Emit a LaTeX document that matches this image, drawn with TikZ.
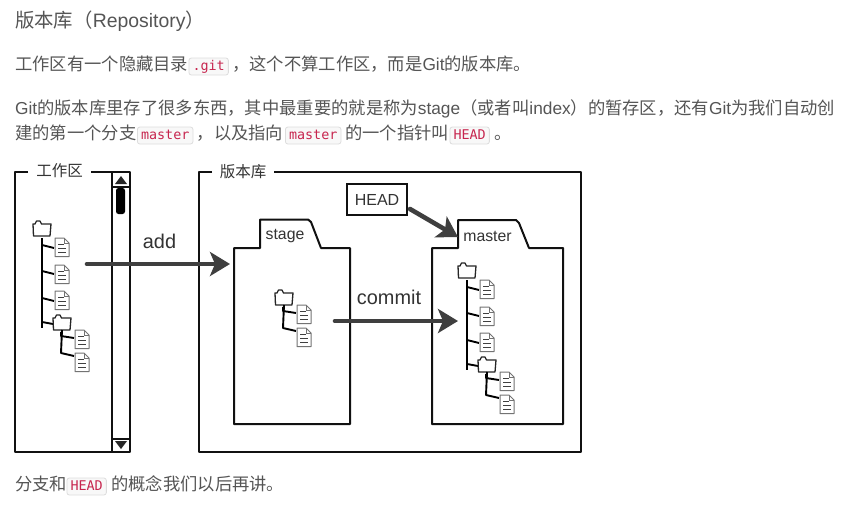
\documentclass[tikz,border=0pt]{standalone}
\usepackage{fontspec}
\setmainfont{Liberation Sans}
\setmonofont{DejaVu Sans Mono}
\newfontfamily\cjk{Noto Sans CJK SC}
\usetikzlibrary{arrows.meta}
\newcommand{\cn}[1]{{\cjk #1}}
\definecolor{bodytext}{HTML}{555555}
\definecolor{codetext}{HTML}{C7254E}
\definecolor{codeline}{HTML}{DDDDDD}
\definecolor{codefill}{HTML}{F8F8F8}
\definecolor{framecol}{HTML}{111111}
\definecolor{arrowcol}{HTML}{3F3F3F}
\definecolor{labelcol}{HTML}{333333}
\tikzset{
  para/.style={anchor=base west,inner sep=0pt,text=bodytext,font=\fontsize{17.3}{20}\selectfont},
  title/.style={para,font=\fontsize{19.4}{24}\selectfont},
  codebox/.style={anchor=base west,draw=codeline,fill=codefill,rounded corners=2.5pt,line width=.8pt,
     text=codetext,font=\ttfamily\fontsize{13.4}{16}\selectfont,inner xsep=3.6pt,inner ysep=0pt,
     text height=12pt,text depth=5pt},
  frameline/.style={draw=framecol,line width=2.3pt,line join=round},
  folderline/.style={draw=framecol,line width=2pt,line join=round},
  treeline/.style={draw=black,line width=1.9pt,line join=round},
  flowarrow/.style={draw=arrowcol,line width=4.6pt,line cap=round,
     -{Stealth[length=20pt,width=24pt,inset=5pt]}},
  framelabel/.style={inner sep=0pt,text=labelcol,font=\cjk\fontsize{15.5}{18}\selectfont},
  foldername/.style={inner sep=0pt,text=labelcol,font=\fontsize{15.8}{18}\selectfont},
  flowlabel/.style={inner sep=0pt,text=labelcol,font=\fontsize{19.9}{22}\selectfont},
  headbox/.style={draw=framecol,line width=2pt,fill=white,inner sep=0pt,minimum width=60pt,minimum height=31pt,
     text=labelcol,font=\fontsize{16}{18}\selectfont},
  foldericon/.pic={
    \draw[draw=black!85,line width=1.3pt,line join=round] (0,3) -- (2,3) -- (3.5,0) -- (7,0) -- (8.5,3) -- (18,3) -- (17,15) -- (0.5,15) -- cycle;
  },
  docicon/.pic={
    \draw[draw=black!55,line width=1pt,line join=round,fill=white] (0,0) -- (9,0) -- (14,5) -- (14,18.5) -- (0,18.5) -- cycle;
    \draw[draw=black!55,line width=.7pt] (9,0) -- (9,5) -- (14,5);
    \draw[draw=black!75,line width=1pt] (3,6) -- (9,6) (3,10) -- (11,10) (3,14) -- (11,14);
  },
  subtree/.pic={
    \pic at (0,0) {foldericon};
    \draw[treeline] (9,15) -- (8,38) -- (21,41);
    \draw[treeline] (8,17) -- (8,21) -- (21,23);
    \pic at (22,15) {docicon};
    \pic at (22,38) {docicon};
  },
  fulltree/.pic={
    \pic at (0,0) {foldericon};
    \draw[treeline] (9,17) -- (9,107);
    \draw[treeline] (9,24) -- (21,27);
    \draw[treeline] (9,50) -- (21,53);
    \draw[treeline] (9,77) -- (21,80);
    \draw[treeline] (9,101) -- (20,103);
    \pic at (22,17) {docicon};
    \pic at (22,44) {docicon};
    \pic at (22,70) {docicon};
    \pic at (20,94) {subtree};
  },
}
\begin{document}
\begin{tikzpicture}[x=1pt,y=-1pt]
\useasboundingbox[fill=white] (0,0) rectangle (845,504);

% ---- text above and below
\node[title] (heading) at (15,27) {\cn{版本库（}Repository\cn{）}};

\node[para] (p1a) at (15,70) {\cn{工作区有一个隐藏目录}};
\node[codebox] (c1) at (188.5,70) {.git};
\node[para] (p1b) at (232,70) {\cn{，这个不算工作区，而是}Git\cn{的版本库。}};

\node[para] (p2a) at (15,114) {Git\cn{的版本库里存了很多东西，其中最重要的就是称为}stage\cn{（或者叫}index\cn{）的暂存区，还有}Git\cn{为我们自动创}};

\node[para] (p3a) at (15,139) {\cn{建的第一个分支}};
\node[codebox] (c2) at (137,139) {master};
\node[para] (p3b) at (196.5,139) {\cn{，以及指向}};
\node[codebox] (c3) at (285,139) {master};
\node[para] (p3c) at (345,139) {\cn{的一个指针叫}};
\node[codebox] (c4) at (449.5,139) {HEAD};
\node[para] (p3d) at (494,139) {\cn{。}};

\node[para] (p4a) at (15,490) {\cn{分支和}};
\node[codebox] (c5) at (66.5,490) {HEAD};
\node[para] (p4b) at (111,490) {\cn{的概念我们以后再讲。}};

% ---- working directory frame
\draw[frameline] (28,172) -- (15,172) -- (15,452) -- (130,452) -- (130,172) -- (91,172);
\draw[frameline] (112,172) -- (112,452);
\draw[frameline] (112,187) -- (130,187);
\draw[frameline] (112,439) -- (130,439);
\fill[black!85] (121,176) -- (127,184) -- (115,184) -- cycle;
\fill[black!85] (121,449) -- (127,441) -- (115,441) -- cycle;
\fill[black,rounded corners=2.5pt] (116,188) rectangle (125,214);
\node[framelabel] (wlabel) at (59.5,171) {工作区};

% ---- repository frame
\draw[frameline] (212,172) -- (199,172) -- (199,452) -- (581,452) -- (581,172) -- (274,172);
\node[framelabel] (rlabel) at (243,172) {版本库};

% ---- stage and master folders
\draw[folderline] (234,248) -- (260,248) -- (260,219.5) -- (308,219.5) -- (311,222) -- (321,248) -- (350,248) -- (350,424) -- (234,424) -- cycle;
\node[foldername] (stage) at (285,236) {stage};
\draw[folderline] (432,248) -- (458,248) -- (458,220) -- (516,220) -- (519,223) -- (529,248) -- (563,248) -- (563,424) -- (432,424) -- cycle;
\node[foldername] (master) at (487.5,236) {master};

% ---- trees
\pic at (33,221) {fulltree};
\pic at (275,290) {subtree};
\pic at (458,263) {fulltree};

% ---- connectors
\node[headbox] (head) at (377,199.5) {HEAD};
\coordinate (addstart) at (87,264);
\coordinate (addend) at (230,264);
\coordinate (commitstart) at (335,321);
\coordinate (commitend) at (458,321);
\coordinate (headstart) at (410,209);
\coordinate (headend) at (458,237);
\draw[flowarrow] (addstart) -- (addend);
\draw[flowarrow] (commitstart) -- (commitend);
\draw[flowarrow] (headstart) -- (headend);
\node[flowlabel] (addlabel) at (159.5,241) {add};
\node[flowlabel] (commitlabel) at (389,297) {commit};
\end{tikzpicture}
\end{document}
